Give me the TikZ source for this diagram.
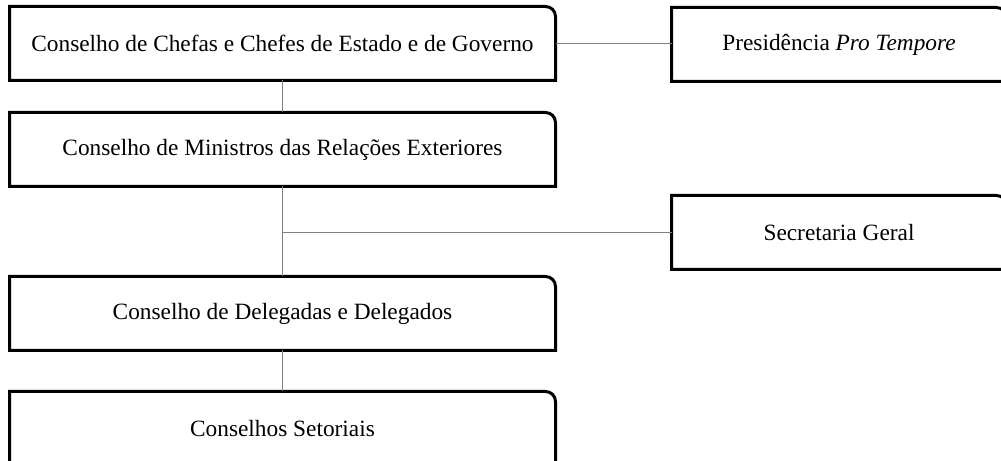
\documentclass[tikz,border=0pt]{standalone}
\usepackage{fontspec}
\setmainfont{Liberation Serif}
\usetikzlibrary{calc}
\definecolor{gray1}{RGB}{128, 128, 128}

\begin{document}
\begin{tikzpicture}[x=0.75pt, y=0.75pt, line width=2.25pt,
    orgbox/.style={rectangle, inner sep=0pt, minimum width=407.25pt, minimum height=53.25pt,
      font=\fontsize{17.5}{21}\selectfont},
    sidebox/.style={orgbox, minimum width=249pt},
    link/.style={draw=gray1, line width=1.1pt}]
  \useasboundingbox (0,0) rectangle (1001,461);
  \node[orgbox] (chefes) at (282.5,417.5) {Conselho de Chefas e Chefes de Estado e de Governo};
  \node[orgbox] (ministros) at (282.5,311.5) {Conselho de Ministros das Relações Exteriores};
  \node[orgbox] (delegados) at (282.5,147.5) {Conselho de Delegadas e Delegados};
  \node[orgbox] (setoriais) at (282.5,32.5) {Conselhos Setoriais};
  \node[sidebox] (presidencia) at (839,416.5) {Presidência \textit{Pro Tempore}};
  \node[sidebox] (secretaria) at (839,228.5) {Secretaria Geral};
  \foreach \n in {chefes,ministros,delegados,setoriais,presidencia,secretaria}
   \draw (\n.south west) -- (\n.north west) -- ([xshift=-7.5pt]\n.north east)
     arc[start angle=90, end angle=0, radius=7.5pt] -- (\n.south east) -- cycle;
  \foreach \from/\to in {chefes/ministros, ministros/delegados, delegados/setoriais}
   \draw[link] (\from) -- (\to);
  \draw[link] (chefes.east) -- (chefes.east -| presidencia.west);
  \draw[link] (ministros.south |- secretaria.west) -- (secretaria.west);
\end{tikzpicture}
\end{document}
